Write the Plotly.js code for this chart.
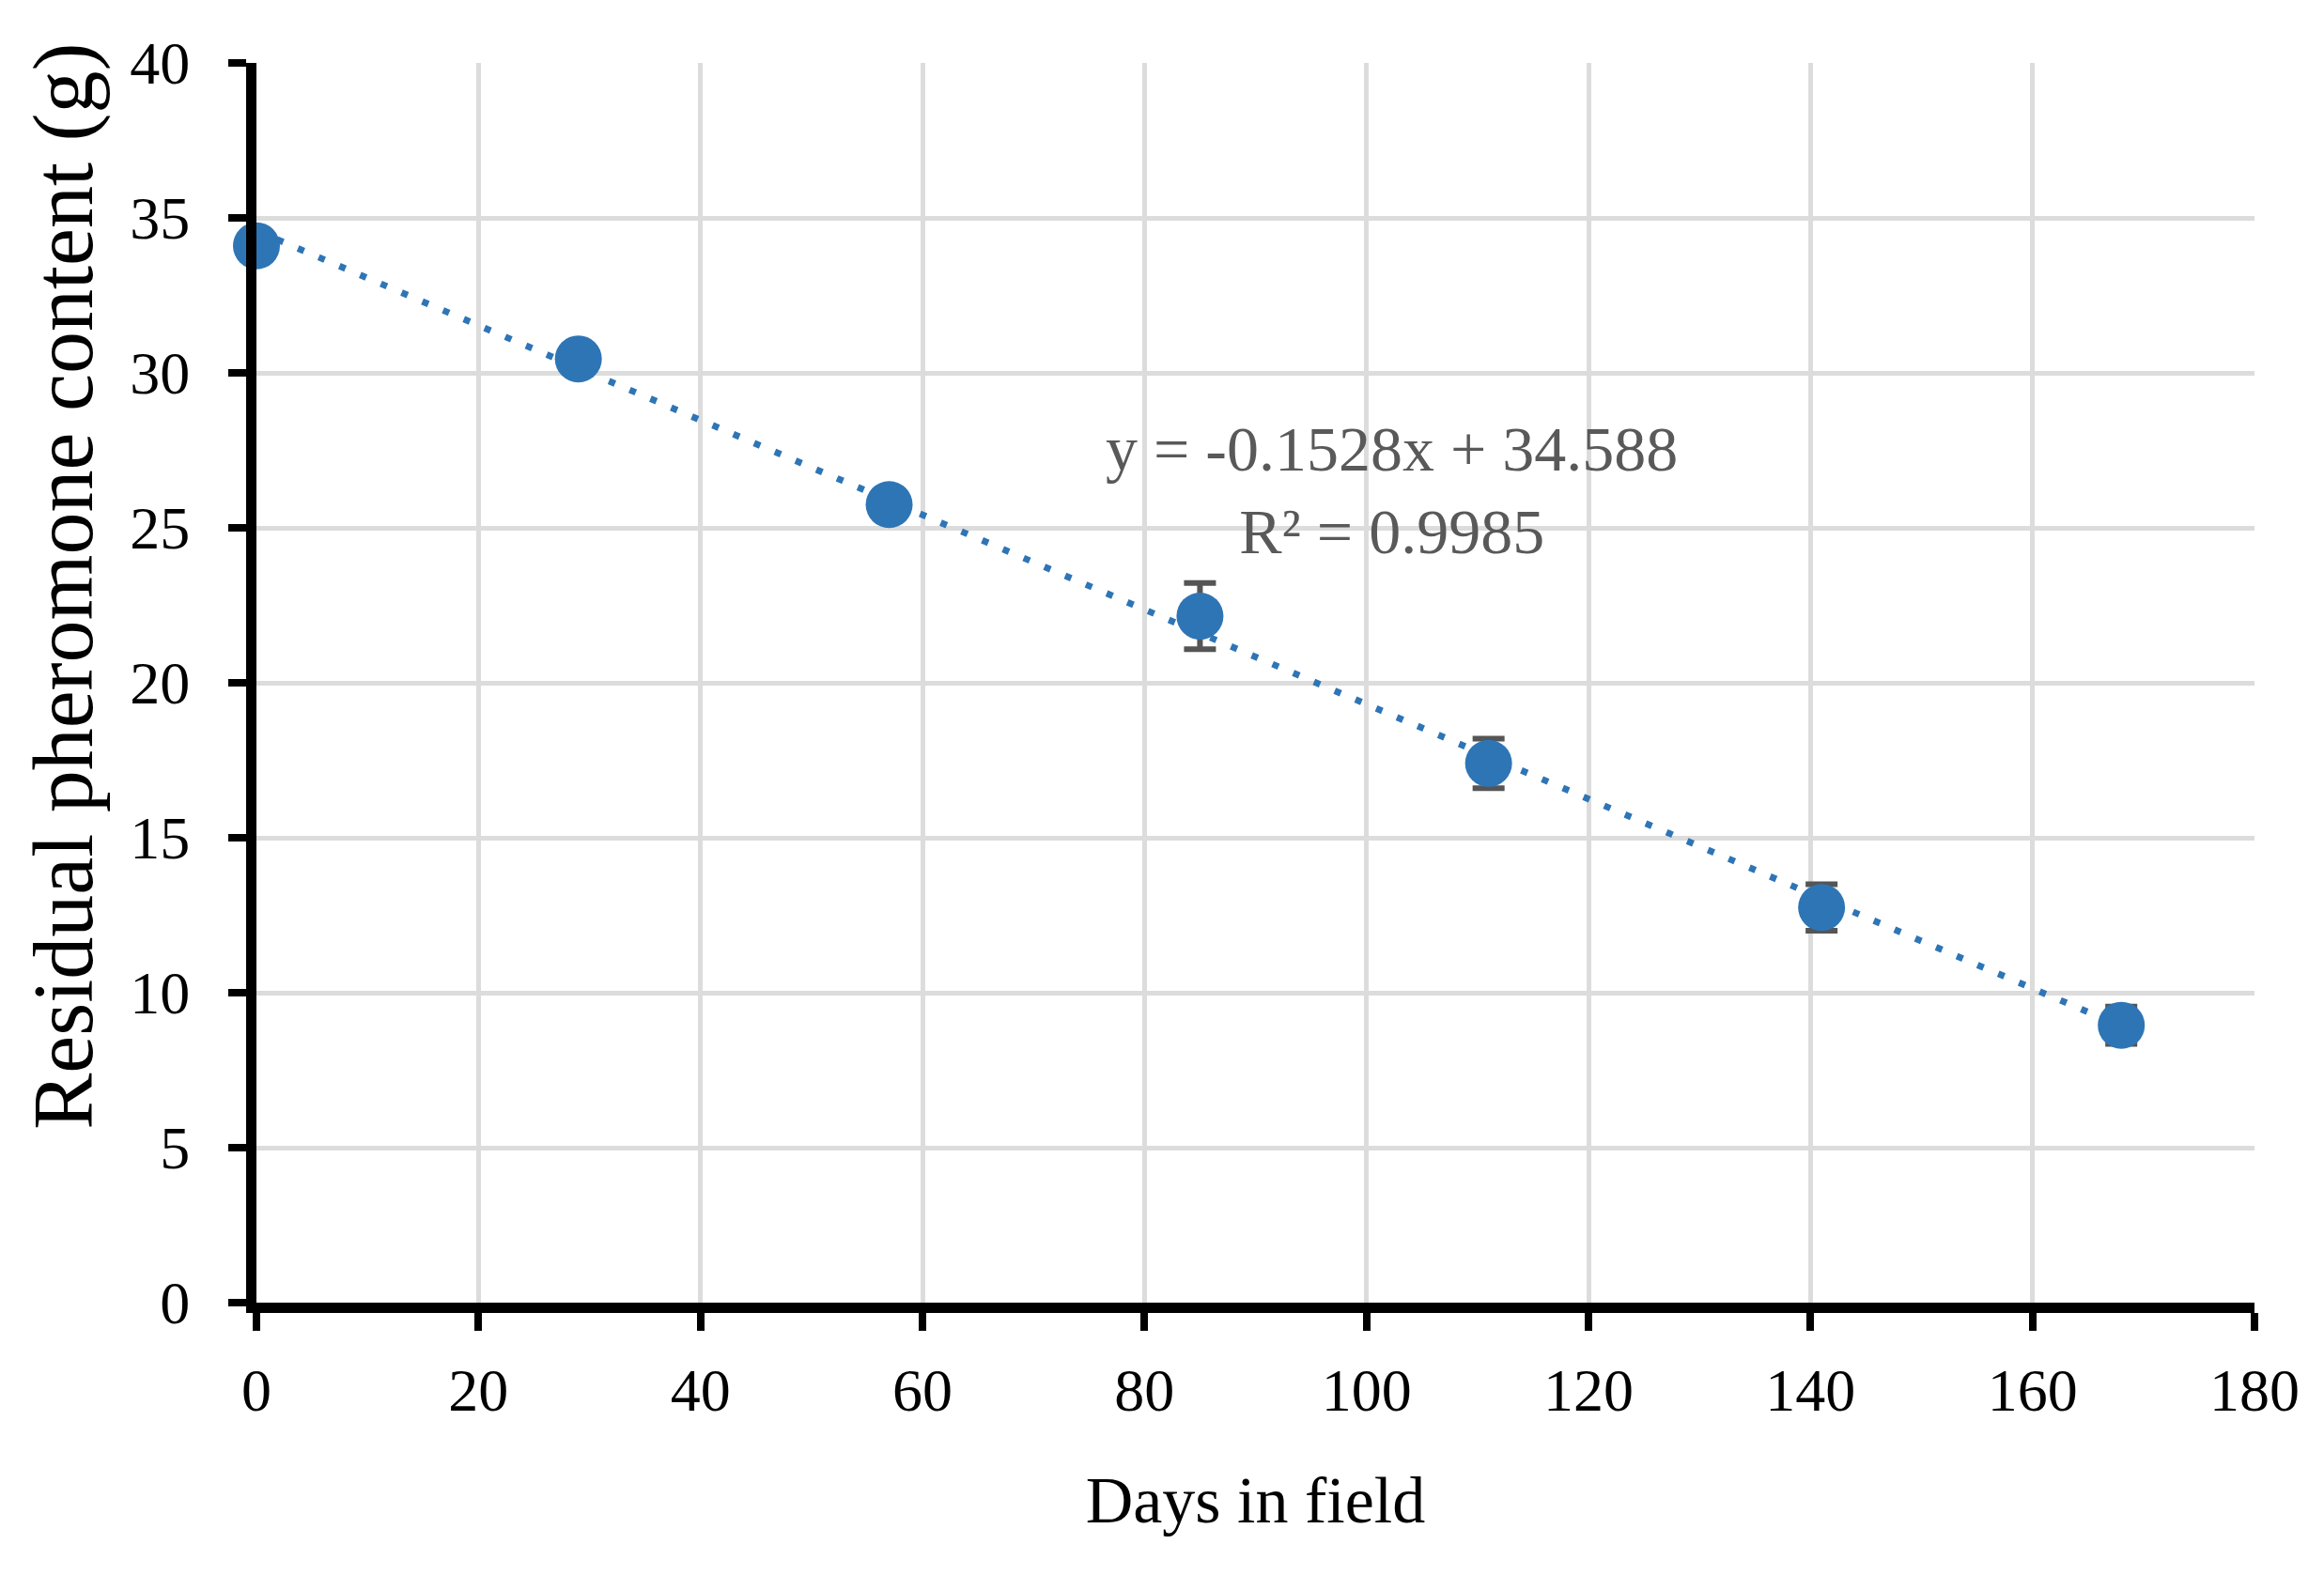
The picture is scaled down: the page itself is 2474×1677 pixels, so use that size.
<!DOCTYPE html>
<html>
<head>
<meta charset="utf-8">
<script src="https://cdn.plot.ly/plotly-3.0.1.min.js"></script>
<style>html,body{margin:0;padding:0;background:#fff;}#chart{width:2474px;height:1677px;}</style>
</head>
<body>
<div id="chart"></div>
<script>
// Data
const days = [0, 29, 57, 85, 111, 141, 168];
const residual = [34.1, 30.45, 25.75, 22.15, 17.4, 12.75, 8.95];
const errors = [0.3, 0.3, 0.3, 1.07, 0.8, 0.75, 0.6];
const xTicks = [0, 20, 40, 60, 80, 100, 120, 140, 160, 180];
const yTicks = [0, 5, 10, 15, 20, 25, 30, 35, 40];
const slope = -0.1528;
const intercept = 34.588;
const r2 = 0.9985;
const xTitle = 'Days in field';
const yTitle = 'Residual pheromone content (g)';

const trendX = [days[0], days[days.length - 1]];
const trendY = trendX.map(x => slope * x + intercept);

const blue = '#2E75B6';
const font = 'Liberation Serif, Times New Roman, serif';

const traces = [
  {
    x: trendX, y: trendY, mode: 'lines', type: 'scatter',
    line: {color: blue, width: 7, dash: '7px,17px'},
    hoverinfo: 'skip', showlegend: false, cliponaxis: false
  },
  {
    x: days, y: residual, mode: 'markers', type: 'scatter',
    marker: {color: blue, size: 50},
    error_y: {type: 'data', array: errors, visible: true, color: '#555555', thickness: 6, width: 17},
    showlegend: false, cliponaxis: false
  }
];

const layout = {
  width: 2474, height: 1677,
  paper_bgcolor: '#fff', plot_bgcolor: '#fff',
  margin: {l: 273, r: 74, t: 67, b: 290},
  font: {family: font, color: '#000'},
  xaxis: {
    range: [0, 180], tickvals: xTicks, ticktext: xTicks.map(String),
    showgrid: true, gridcolor: '#dcdcdc', gridwidth: 5,
    zeroline: false, showline: true, linecolor: '#000', linewidth: 11,
    ticks: 'outside', ticklen: 19, tickwidth: 8, tickcolor: '#000',
    tickfont: {family: font, size: 64, color: '#000'},
    ticklabelstandoff: 8,
    automargin: false,
    title: {text: xTitle, font: {family: font, size: 70, color: '#000'}, standoff: 62}
  },
  yaxis: {
    range: [0, 40], tickvals: yTicks, ticktext: yTicks.map(String),
    showgrid: true, gridcolor: '#dcdcdc', gridwidth: 5,
    zeroline: false, showline: true, linecolor: '#000', linewidth: 11,
    ticks: 'outside', ticklen: 19, tickwidth: 8, tickcolor: '#000',
    tickfont: {family: font, size: 64, color: '#000'},
    ticklabelstandoff: 28,
    automargin: false
  },
  annotations: [
    {
      x: 102.3, y: 26.2, xref: 'x', yref: 'y', showarrow: false,
      text: 'y = ' + slope.toFixed(4) + 'x + ' + intercept.toFixed(3) + '<br>R² = ' + r2.toFixed(4),
      font: {family: font, size: 68, color: '#595959'}, align: 'center'
    },
    {
      x: -0.0965, y: 0.578, xref: 'paper', yref: 'paper', showarrow: false,
      xanchor: 'center', yanchor: 'middle', textangle: -90,
      text: yTitle,
      font: {family: font, size: 90, color: '#000'}
    }
  ]
};

Plotly.newPlot('chart', traces, layout, {displayModeBar: false, staticPlot: true});
</script>
</body>
</html>
